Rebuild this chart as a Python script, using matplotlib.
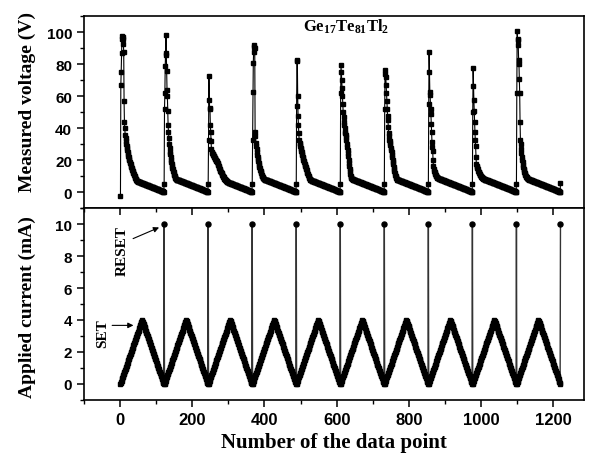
import numpy as np
import matplotlib
matplotlib.use("Agg")
import matplotlib.pyplot as plt
from matplotlib.ticker import MultipleLocator

plt.rcParams['mathtext.fontset'] = 'custom'
plt.rcParams['mathtext.bf'] = 'Liberation Serif:bold'
plt.rcParams['mathtext.rm'] = 'Liberation Serif:bold'

# ---------------- data ----------------
# applied current for one SET ramp (0 -> 4 -> 0 mA), followed by RESET pulse
RAMP_UP = [0.00, 0.07, 0.13, 0.20, 0.27, 0.33, 0.40, 0.47, 0.53, 0.60,
           0.67, 0.73, 0.80, 0.87, 0.93, 1.00, 1.07, 1.13, 1.20, 1.27,
           1.33, 1.40, 1.47, 1.53, 1.60, 1.67, 1.73, 1.80, 1.87, 1.93,
           2.00, 2.07, 2.13, 2.20, 2.27, 2.33, 2.40, 2.47, 2.53, 2.60,
           2.67, 2.73, 2.80, 2.87, 2.93, 3.00, 3.07, 3.13, 3.20, 3.27,
           3.33, 3.40, 3.47, 3.53, 3.60, 3.67, 3.73, 3.80, 3.87, 3.93, 4.00]
RAMP_DOWN = [3.93, 3.87, 3.80, 3.73, 3.67, 3.60, 3.53, 3.47, 3.40, 3.33,
             3.27, 3.20, 3.13, 3.07, 3.00, 2.93, 2.87, 2.80, 2.73, 2.67,
             2.60, 2.53, 2.47, 2.40, 2.33, 2.27, 2.20, 2.13, 2.07, 2.00,
             1.93, 1.87, 1.80, 1.73, 1.67, 1.60, 1.53, 1.47, 1.40, 1.33,
             1.27, 1.20, 1.13, 1.07, 1.00, 0.93, 0.87, 0.80, 0.73, 0.67,
             0.60, 0.53, 0.47, 0.40, 0.33, 0.27, 0.20, 0.13, 0.07, 0.00]
RESET_CURRENT = 10.0
N_CYCLES = 10

# measured voltage per cycle: threshold spike + fast decay down to the knee
SPIKES = [
    [-2, 67, 75, 87, 96, 98, 97, 96, 93, 88, 57, 44, 40,
     36, 34, 32, 30.5, 29, 27.5, 26.2, 25, 23.9, 22.8, 21.8, 20.8, 19.9, 19.0,
     18.2, 17.4, 16.6, 15.9, 15.2, 14.5, 13.8, 13.1, 12.5, 11.9, 11.3, 10.7,
     10.1, 9.6, 9.1, 8.6, 8.1, 7.7, 7.3],
    [52, 62, 79, 87, 98.5, 86, 76, 64, 60, 51, 42, 38, 34,
     30, 27.5, 25.5, 23.7, 22, 20.5, 19.1, 17.8, 16.6, 15.5, 14.4, 13.4, 12.5,
     11.6, 10.8, 10.1, 9.5, 9.0, 8.6, 8.3, 8.1, 8.0, 7.9, 7.85, 7.8],
    [33, 73, 58, 53, 52, 42, 38, 32, 27, 25,
     24.5, 24.1, 23.7, 23.3, 22.9, 22.5, 22.1, 21.7, 21.3, 20.9, 20.5, 20.1,
     19.7, 19.3, 19.0, 18.4, 17.8, 17.2, 16.6, 16.0, 15.4, 14.8, 14.2, 13.6,
     13.0, 12.5, 12.0, 11.5, 11.0, 10.5, 10.1, 9.7, 9.3, 8.9, 8.6, 8.3, 8.0,
     7.7, 7.4, 7.1, 6.9],
    [33, 63, 81, 88, 92, 91, 90, 38, 35, 31, 29,
     27, 25.2, 23.5, 22, 20.6, 19.3, 18.1, 17, 16, 15, 14.1, 13.3, 12.5, 11.8,
     11.1, 10.5, 10.0, 9.6, 9.2, 8.9, 8.6, 8.4, 8.2, 8.0, 7.9, 7.8, 7.7, 7.65,
     7.6],
    [54, 83, 82, 60, 48, 42, 37, 33, 31, 30,
     29, 28, 27, 26, 25, 24.1, 23.2, 22.3, 21.4, 20.5, 19.6, 18.8, 18.0, 17.2,
     16.4, 15.7, 15.0, 14.4, 13.8, 13.0, 12.2, 11.4, 10.7, 10.0, 9.4, 8.9, 8.5,
     8.1, 7.8, 7.6, 7.5, 7.4],
    [62, 79.5, 75, 70, 65, 60, 55, 50, 47, 44, 42, 40, 38, 37, 36,
     34.5, 32.5, 30.5, 28.5, 26.5, 24.5, 22.5, 20.5, 18.5, 16.6, 14.8, 13.1,
     11.6, 10.4, 9.5, 8.9],
    [52, 76.4, 74, 72, 67, 62, 57, 52, 48, 45, 41, 37, 35, 33, 32,
     31, 29.5, 28, 26.5, 25, 23.5, 22, 20.5, 19, 17.5, 16, 14.6, 13.3, 12.1,
     11.0, 10.1, 9.4, 8.9],
    [55, 88, 75, 63, 60.6, 52, 49, 43, 37.6, 31.4, 28.2, 26,
     20, 16.5, 14.6, 13.6, 12.8, 12.1, 11.5, 11.0, 10.5, 10.1, 9.8, 9.5, 9.2,
     9.0],
    [50, 78, 66.5, 58, 51, 44, 38, 33, 29, 22,
     17.5, 16.6, 15.8, 15.0, 14.3, 13.6, 13.0, 12.4, 11.9, 11.4, 11.0, 10.6,
     10.2, 9.9, 9.6, 9.3, 9.1, 8.9, 8.7, 8.5, 8.4, 8.3, 8.2, 8.1, 8.0, 7.9,
     7.85],
    [62, 101, 96, 95, 92, 83, 80, 71, 62, 44, 33, 30,
     27, 24.5, 22.3, 20.4, 18.7, 17.2, 15.9, 14.7, 13.7, 12.8, 12.0, 11.3,
     10.7, 10.2, 9.8, 9.4, 9.1, 8.8, 8.6, 8.4, 8.25, 8.15, 8.05],
]
# slow, nearly straight decline after the knee (end of each cycle)
LINEAR_TAIL = [9.50, 9.41, 9.32, 9.23, 9.14, 9.05, 8.96, 8.87, 8.78, 8.69,
               8.60, 8.51, 8.42, 8.33, 8.24, 8.15, 8.06, 7.97, 7.88, 7.79,
               7.70, 7.61, 7.52, 7.43, 7.34, 7.25, 7.16, 7.07, 6.98, 6.89,
               6.80, 6.71, 6.62, 6.53, 6.44, 6.35, 6.26, 6.17, 6.08, 5.99,
               5.90, 5.81, 5.72, 5.63, 5.54, 5.45, 5.36, 5.27, 5.18, 5.09,
               5.00, 4.91, 4.82, 4.73, 4.64, 4.55, 4.46, 4.37, 4.28, 4.19,
               4.10, 4.01, 3.92, 3.83, 3.74, 3.65, 3.56, 3.47, 3.38, 3.29,
               3.20, 3.11, 3.02, 2.93, 2.84, 2.75, 2.66, 2.57, 2.48, 2.39,
               2.30, 2.21, 2.12, 2.03, 1.94, 1.85, 1.76, 1.67, 1.58, 1.49,
               1.40, 1.31, 1.22, 1.13, 1.04, 0.95, 0.86, 0.77, 0.68, 0.59,
               0.50, 0.41, 0.32]
RESET_VOLTAGE = [5.5, 5.5, 5.5, 5.5, 5.5, 5.5, 5.5, 5.5, 5.5, 5.6]

# ---------------- assemble series ----------------
ramp = RAMP_UP + RAMP_DOWN
current, voltage, is_reset = [], [], []
for k in range(N_CYCLES):
    current += ramp + [RESET_CURRENT]
    is_reset += [False] * len(ramp) + [True]
    sp = SPIKES[k]
    n_rest = len(ramp) - len(sp)
    voltage += sp + LINEAR_TAIL[len(LINEAR_TAIL) - n_rest:] + [RESET_VOLTAGE[k]]
x = np.arange(1, len(current) + 1)
current = np.array(current)
is_reset = np.array(is_reset)

# ---------------- figure ----------------
fig = plt.figure(figsize=(5.92, 4.64), dpi=100)
ax1 = fig.add_axes([0.1419, 0.5489, 0.8451, 0.4138])
ax2 = fig.add_axes([0.1419, 0.1364, 0.8451, 0.4125], sharex=ax1)

ax1.plot(x, voltage, color='black', lw=0.8, marker='s', ms=2.9,
         mec='black', mfc='black')
# connecting line (thin), ramp markers (squares), reset markers (dots)
ax2.plot(x, current, color='#333333', lw=1.0)
ax2.plot(x[~is_reset], current[~is_reset], ls='none', marker='s', ms=3.3,
         mec='black', mfc='black')
ax2.plot(x[is_reset], current[is_reset], ls='none', marker='o', ms=3.6,
         mec='black', mfc='black')

label_font = dict(family='Liberation Serif', weight='bold', size=14)

ax1.set_xlim(-100, 1286)
ax1.set_ylim(-10, 110)
ax2.set_ylim(-1, 11)

ax1.yaxis.set_major_locator(MultipleLocator(20))
ax1.yaxis.set_minor_locator(MultipleLocator(10))
ax2.yaxis.set_major_locator(MultipleLocator(2))
ax2.yaxis.set_minor_locator(MultipleLocator(1))
ax2.xaxis.set_major_locator(MultipleLocator(200))
ax2.xaxis.set_minor_locator(MultipleLocator(100))

for ax in (ax1, ax2):
    for s in ax.spines.values():
        s.set_linewidth(1.2)
    ax.tick_params(axis='y', which='major', direction='out', length=5, width=1.1,
                   right=False)
    ax.tick_params(axis='y', which='minor', direction='out', length=3, width=1.0,
                   right=False)
    for lab in ax.get_yticklabels():
        lab.set_fontfamily('Liberation Sans'); lab.set_fontweight('bold'); lab.set_fontsize(11)

ax1.tick_params(axis='x', which='both', bottom=False, top=False, labelbottom=False)
ax2.tick_params(axis='x', which='major', direction='out', length=5, width=1.1,
                bottom=True, top=False)
ax2.tick_params(axis='x', which='minor', direction='out', length=3, width=1.0,
                bottom=True, top=False)
sec = ax2.secondary_xaxis('top')
sec.xaxis.set_major_locator(MultipleLocator(200))
sec.xaxis.set_minor_locator(MultipleLocator(100))
sec.tick_params(axis='x', which='major', direction='in', length=5, width=1.1, labeltop=False)
sec.tick_params(axis='x', which='minor', direction='in', length=3, width=1.0, labeltop=False)
sec.spines['top'].set_visible(False)

for lab in ax2.get_xticklabels():
    lab.set_fontfamily('Liberation Sans'); lab.set_fontweight('bold'); lab.set_fontsize(12)

ax1.set_ylabel('Measured voltage (V)', **label_font)
ax2.set_ylabel('Applied current (mA)', **label_font)
ax2.set_xlabel('Number of the data point', size=15, family='Liberation Serif',
               weight='bold')
ax1.yaxis.set_label_coords(-0.095, 0.56)
ax2.yaxis.set_label_coords(-0.095, 0.49)

ax1.text(506, 100.8, r'$\mathbf{Ge_{17}Te_{81}Tl_{2}}$', fontsize=12,
         ha='left', va='baseline')

ax2.text(7, 8.4, 'RESET', rotation=90, ha='center', va='center',
         family='Liberation Serif', weight='bold', size=11)
ax2.annotate('', xy=(108, 9.8), xytext=(36, 9.1),
             arrowprops=dict(arrowstyle='-|>', color='black', lw=0.8,
                             mutation_scale=8, shrinkA=0, shrinkB=0))
ax2.text(-48.5, 3.2, 'SET', rotation=90, ha='center', va='center',
         family='Liberation Serif', weight='bold', size=11)
ax2.annotate('', xy=(37, 3.66), xytext=(-22, 3.66),
             arrowprops=dict(arrowstyle='-|>', color='black', lw=0.8,
                             mutation_scale=8, shrinkA=0, shrinkB=0))

fig.savefig('out.png', dpi=100)
